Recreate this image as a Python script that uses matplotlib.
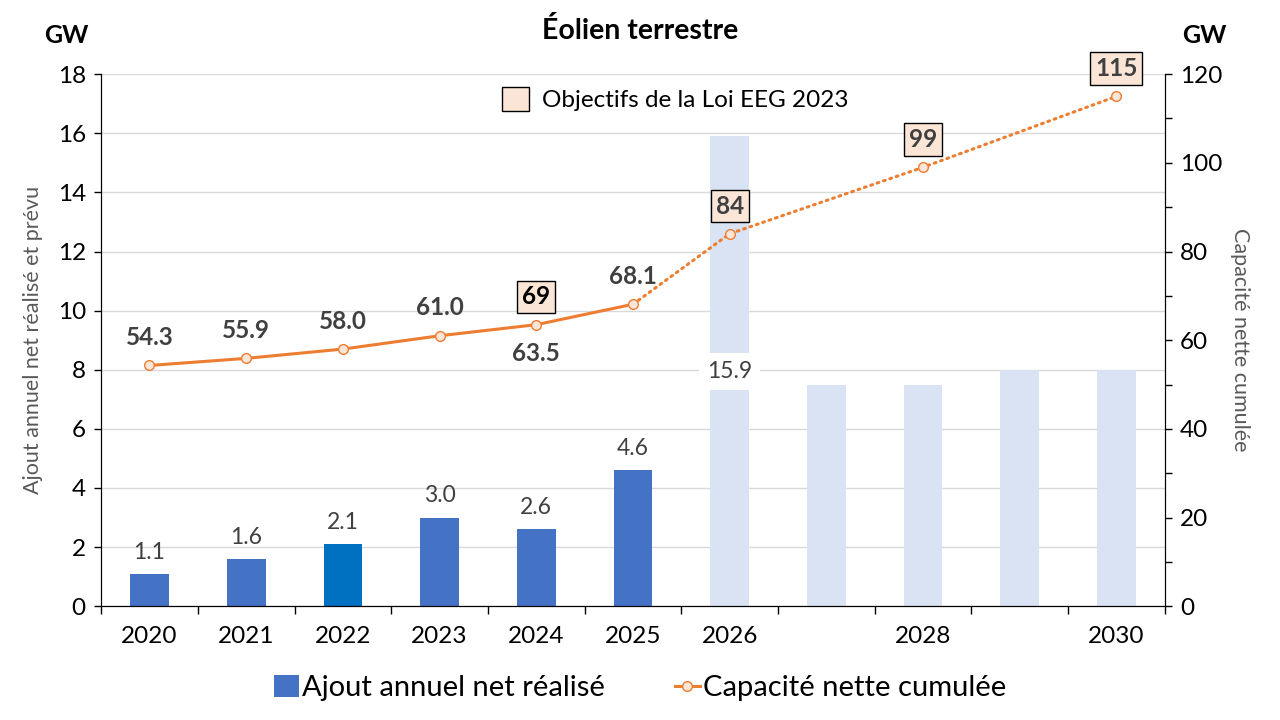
import matplotlib
matplotlib.use("Agg")
import matplotlib.pyplot as plt
from matplotlib.patches import Patch
from matplotlib.lines import Line2D
import numpy as np

plt.rcParams['font.family'] = ['Lato', 'DejaVu Sans']

# ---- data ----
years = ['2020', '2021', '2022', '2023', '2024', '2025', '2026', '2027', '2028', '2029', '2030']
tick_labels = ['2020', '2021', '2022', '2023', '2024', '2025', '2026', '', '2028', '', '2030']
realized_years = ['2020', '2021', '2022', '2023', '2024', '2025']
realized = [1.1, 1.6, 2.1, 3.0, 2.6, 4.6]
planned_years = ['2026', '2027', '2028', '2029', '2030']
planned = [15.9, 7.5, 7.5, 8.0, 8.0]
cum_years = ['2020', '2021', '2022', '2023', '2024', '2025']
cumulative = [54.3, 55.9, 58.0, 61.0, 63.5, 68.1]
target_years = ['2024', '2026', '2028', '2030']
targets = [69, 84, 99, 115]
proj_years = ['2025', '2026', '2028', '2030']
projected = [68.1, 84, 99, 115]

BLUE = '#4472C4'
BLUE22 = '#0070C0'
LIGHT = '#DAE3F3'
ORANGE = '#ED7D31'
PEACH = '#FBE5D6'
GRAY = '#404040'

pos = {y: i for i, y in enumerate(years)}

fig = plt.figure(figsize=(12.8, 7.2), dpi=100)
ax = fig.add_axes([0.079, 0.158, 0.831, 0.739])
ax2 = ax.twinx()

# bars
rx = [pos[y] for y in realized_years]
colors = [BLUE22 if y == '2022' else BLUE for y in realized_years]
ax.bar(rx, realized, width=0.4, color=colors, zorder=2)
px = [pos[y] for y in planned_years]
ax.bar(px, planned, width=0.4, color=LIGHT, zorder=2)

for x, v in zip(rx, realized):
    ax.annotate(f'{v:.1f}', (x, v), xytext=(0, 8), textcoords='offset points',
                ha='center', va='bottom', fontsize=16.5, color=GRAY, zorder=5)
# label for 2026 planned bar, placed inside with white background
ax.text(px[0], 7.95, f'{planned[0]:.1f}', ha='center', va='center', fontsize=16.5, color=GRAY,
        bbox=dict(boxstyle='square,pad=0.35', fc='white', ec='none'), zorder=5)

ax.set_xlim(-0.5, len(years) - 0.5)
ax.set_ylim(0, 18)
ax.set_yticks(np.arange(0, 19, 2))
ax.yaxis.grid(True, color='#D9D9D9', lw=1, zorder=0)
ax.set_axisbelow(True)
ax.set_xticks(range(len(years)))
ax.set_xticklabels(tick_labels, fontsize=17.5)
ax.set_xticks(np.arange(-0.5, len(years), 1), minor=True)
ax.tick_params(axis='x', which='major', length=0, pad=14)
ax.tick_params(axis='x', which='minor', length=6, width=1)
ax.tick_params(axis='y', labelsize=17.5, length=5, width=1, pad=6)
for s in ['top']:
    ax.spines[s].set_visible(False)
    ax2.spines[s].set_visible(False)
ax.spines['left'].set_color('black')
ax.spines['bottom'].set_color('black')
ax2.spines['right'].set_color('black')
ax.set_ylabel('Ajout annuel net réalisé et prévu', fontsize=15.5, color='#595959', va='center')
ax.yaxis.set_label_coords(-0.064, 0.5)

# line on right axis
ax2.set_ylim(0, 120)
ax2.set_yticks(np.arange(0, 121, 20))
ax2.set_yticks(np.arange(0, 121, 10), minor=True)
ax2.tick_params(axis='y', which='both', labelsize=17.5, length=5, width=1, pad=6)
ax2.set_ylabel('Capacité nette cumulée', fontsize=15.5, color='#595959', rotation=270, va='center')
ax2.yaxis.set_label_coords(1.0705, 0.5)

cx = [pos[y] for y in cum_years]
ax2.plot(cx, cumulative, color=ORANGE, lw=2.2, marker='o', ms=7, mfc=PEACH, mec=ORANGE,
         mew=1, zorder=4, solid_capstyle='round')
prx = [pos[y] for y in proj_years]
ax2.plot(prx, projected, color=ORANGE, lw=2.2, ls=(0, (0.6, 1.6)), dash_capstyle='round', zorder=3)
ax2.plot(prx[1:], projected[1:], ls='none', marker='o', ms=7, mfc=PEACH, mec=ORANGE, mew=1, zorder=4)

for y, v in zip(cum_years, cumulative):
    off = -21 if y == '2024' else 20
    ax2.annotate(f'{v:.1f}', (pos[y], v), xytext=(0, off), textcoords='offset points',
                 ha='center', va='center', fontsize=17.5, fontweight='bold', color=GRAY, zorder=6)

for y, v in zip(target_years, targets):
    c = 'black' if y == '2024' else GRAY
    ax2.annotate(f'{v}', (pos[y], v if y != '2024' else cumulative[cum_years.index('2024')]),
                 xytext=(0, 20), textcoords='offset points',
                 ha='center', va='center', fontsize=17.5, fontweight='bold', color=c, zorder=6,
                 bbox=dict(boxstyle='square,pad=0.2', fc=PEACH, ec='black', lw=1))

# top legend for targets
ax2.legend(handles=[Patch(fc=PEACH, ec='black', lw=1)], labels=['Objectifs de la Loi EEG 2023'],
           loc='center', bbox_to_anchor=(0.54, 0.953), frameon=False, fontsize=17.5,
           handlelength=1.1, handleheight=1.1, handletextpad=0.55)

# bottom legend
h1 = Patch(fc=BLUE, ec='none')
h2 = Line2D([0], [0], color=ORANGE, lw=2.2, marker='o', ms=7, mfc=PEACH, mec=ORANGE, mew=1)
fig.legend(handles=[h1, h2], labels=['Ajout annuel net réalisé', 'Capacité nette cumulée'],
           loc='center', bbox_to_anchor=(0.5, 0.044), ncol=2, frameon=False, fontsize=21,
           handlelength=0.85, handleheight=0.75, handletextpad=0.1, columnspacing=2.4)

fig.text(0.5, 0.958, 'Éolien terrestre', ha='center', va='center', fontsize=20.5, fontweight='bold')
fig.text(0.052, 0.951, 'GW', ha='center', va='center', fontsize=18, fontweight='bold')
fig.text(0.941, 0.951, 'GW', ha='center', va='center', fontsize=18, fontweight='bold')

fig.savefig('out.png', dpi=100)
